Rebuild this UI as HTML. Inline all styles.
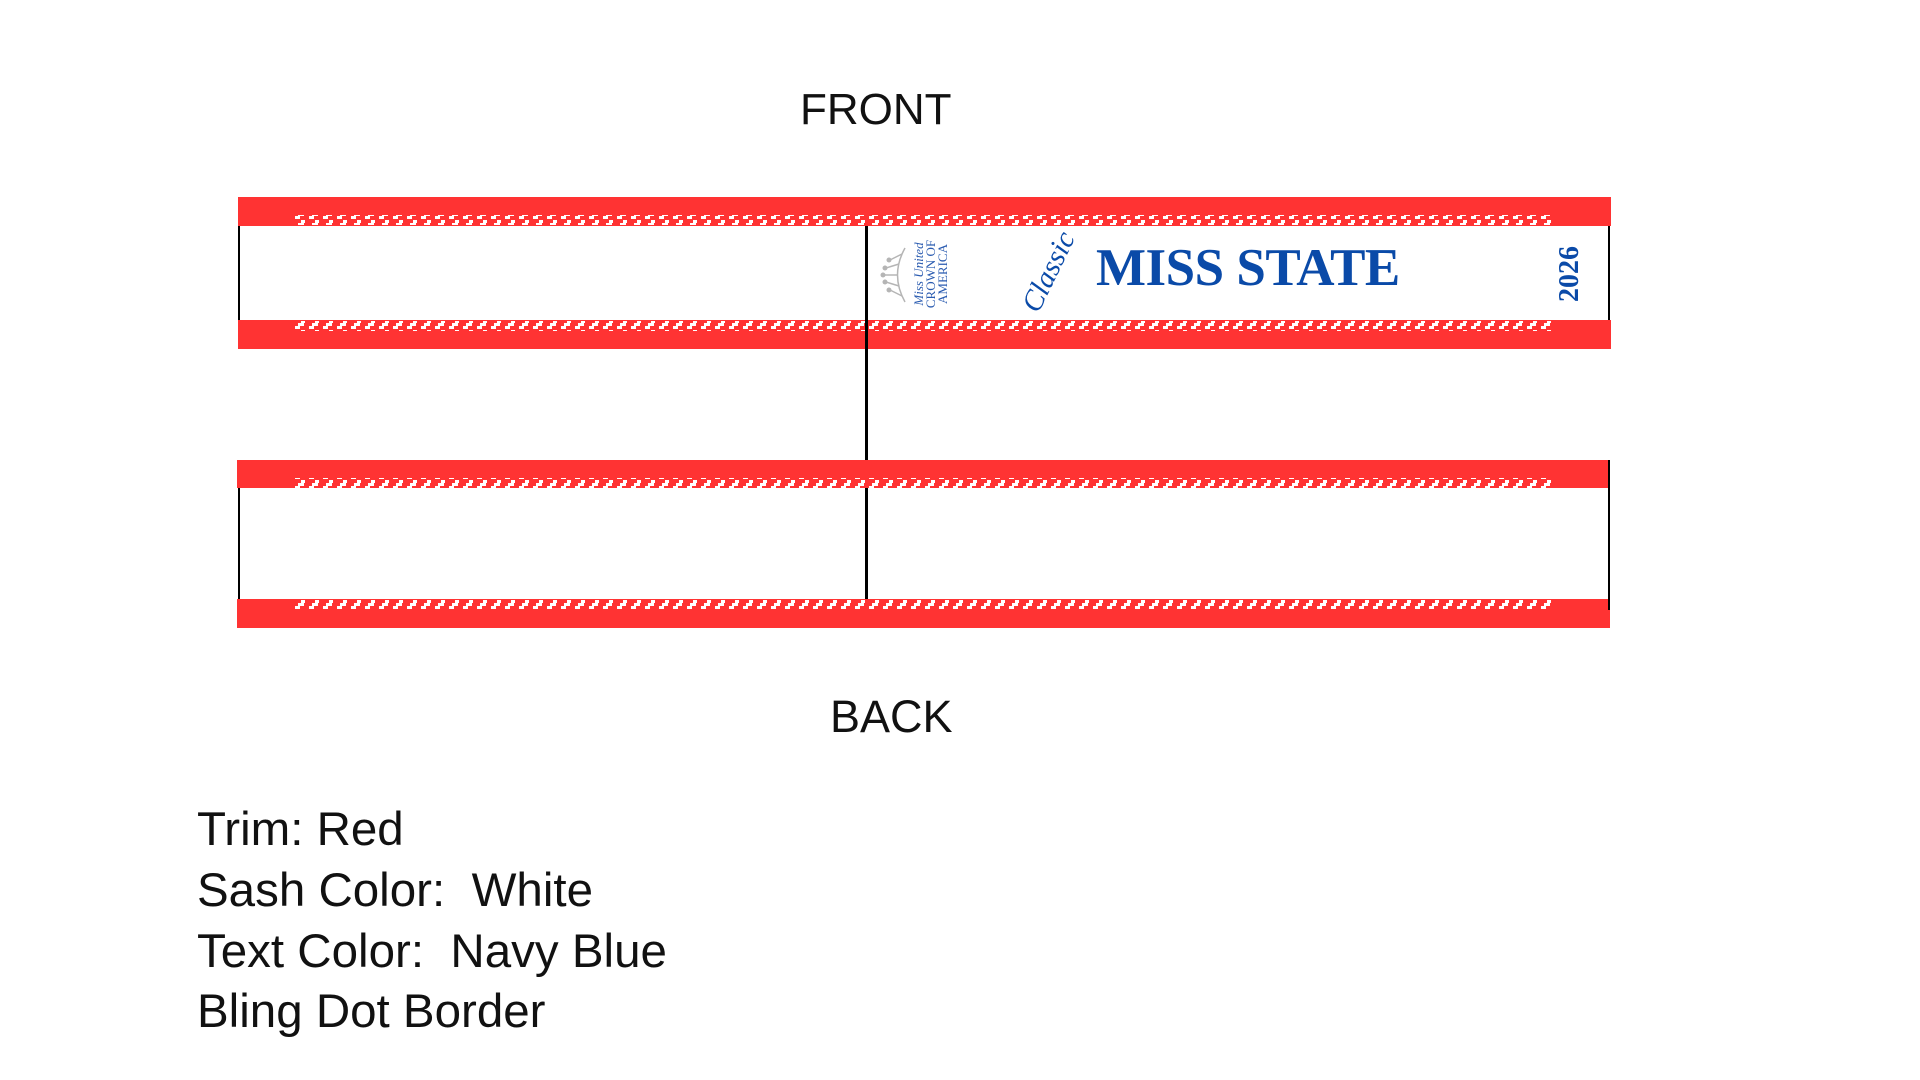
<!DOCTYPE html>
<html><head><meta charset="utf-8"><style>
html,body{margin:0;padding:0;background:#fff;}
body{width:1920px;height:1080px;position:relative;overflow:hidden;font-family:"Liberation Sans","DejaVu Sans",sans-serif;}
.t{position:absolute;color:#111;white-space:nowrap;line-height:1;}
.r{position:absolute;white-space:nowrap;line-height:1;}
</style></head><body>
<svg width="1920" height="1080" style="position:absolute;left:0;top:0">
<defs>
<pattern id="dots" x="294" y="0" width="14" height="10" patternUnits="userSpaceOnUse">
<rect x="7" y="0" width="4" height="3" fill="#fff"/>
<rect x="4" y="3" width="6" height="3" fill="#fff"/>
<rect x="1" y="6" width="5" height="3" fill="#fff"/>
</pattern>
</defs>
<rect x="238" y="197" width="1373" height="29" fill="#ff3333"/>
<rect x="238" y="320" width="1373" height="29" fill="#ff3333"/>
<rect x="294" y="215" width="1258" height="10" fill="url(#dots)"/>
<rect x="294" y="321" width="1258" height="10" fill="url(#dots)"/>
<rect x="238" y="226" width="2" height="94" fill="#000"/>
<rect x="1608" y="226" width="2" height="94" fill="#000"/>
<rect x="237" y="460" width="1373" height="28" fill="#ff3333"/>
<rect x="237" y="599" width="1373" height="29" fill="#ff3333"/>
<rect x="294" y="478" width="1258" height="10" fill="url(#dots)"/>
<rect x="294" y="599" width="1258" height="10" fill="url(#dots)"/>
<rect x="238" y="488" width="2" height="111" fill="#000"/>
<rect x="1608" y="460" width="2" height="150" fill="#000"/>
<rect x="865" y="226" width="3" height="234" fill="#000"/>
<rect x="865" y="488" width="3" height="111" fill="#000"/>
<g fill="none" stroke="#b5b5b5" stroke-width="1.5">
<path d="M905 248 Q890 275 905 302"/>
<path d="M902 254 L890 260 M899 264 L886 268 M898 275 L883 275 M899 286 L886 282 M902 296 L890 290"/>
</g>
<g fill="#b5b5b5"><circle cx="889" cy="260" r="2.5"/><circle cx="885" cy="268" r="2.5"/><circle cx="883" cy="275" r="2.5"/><circle cx="885" cy="282" r="2.5"/><circle cx="889" cy="290" r="2.5"/></g>
</svg>
<div class="t" style="left:800px;top:88px;font-size:44px;">FRONT</div>
<div class="t" style="left:830px;top:694px;font-size:45px;">BACK</div>
<div class="t" style="left:197px;top:806px;font-size:47.5px;">Trim: Red</div>
<div class="t" style="left:197px;top:867px;font-size:47.5px;">Sash Color:&nbsp; White</div>
<div class="t" style="left:197px;top:928px;font-size:47.5px;">Text Color:&nbsp; Navy Blue</div>
<div class="t" style="left:197px;top:988px;font-size:47.5px;">Bling Dot Border</div>

<div class="r" style="left:1096px;top:242px;font-family:'Liberation Serif',serif;font-weight:bold;font-size:53px;color:#0a4aa8;letter-spacing:-0.5px;">MISS STATE</div>
<div class="r" style="left:1008px;top:260px;width:80px;text-align:center;font-family:'Liberation Serif',serif;font-style:italic;font-size:29px;color:#0a4aa8;transform:rotate(-64deg);">Classic</div>
<div class="r" style="left:1540px;top:260px;width:60px;text-align:center;font-family:'Liberation Serif',serif;font-weight:bold;font-size:28px;color:#0a4aa8;transform:rotate(-90deg);">2026</div>
<div class="r" style="left:895px;top:256px;width:72px;text-align:center;font-family:'Liberation Serif',serif;font-size:13px;line-height:12px;color:#2a5bb0;transform:rotate(-90deg);"><i>Miss United</i><br>CROWN OF<br>AMERICA</div>
</body></html>
